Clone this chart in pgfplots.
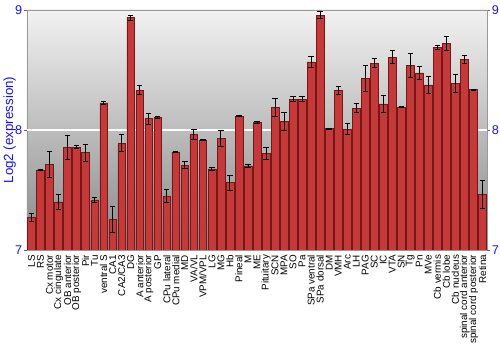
\documentclass[border=0pt]{standalone}
\usepackage{pgfplots}
\usepackage{pgfplotstable}
\pgfplotsset{compat=1.18}
\usepackage{fontspec}
\setmainfont{Liberation Sans}
\definecolor{tickblue}{RGB}{20,20,255}
\definecolor{barfill}{RGB}{196,58,58}
\definecolor{baredge}{RGB}{120,22,22}
\definecolor{bgtop}{RGB}{242,242,242}
\definecolor{bgbot}{RGB}{135,135,135}
\pgfplotstableread{
x y e
0 7.27 0.035
1 7.667 0.005
2 7.714 0.107
3 7.40 0.062
4 7.858 0.10
5 7.858 0.015
6 7.811 0.07
7 7.417 0.02
8 8.225 0.015
9 7.258 0.108
10 7.889 0.072
11 8.936 0.02
12 8.333 0.035
13 8.094 0.045
14 8.103 0.007
15 7.45 0.057
16 7.817 0.008
17 7.708 0.03
18 7.964 0.04
19 7.917 0.003
20 7.675 0.01
21 7.928 0.068
22 7.561 0.062
23 8.114 0.005
24 7.70 0.01
25 8.064 0.01
26 7.803 0.05
27 8.189 0.075
28 8.072 0.075
29 8.258 0.022
30 8.258 0.02
31 8.567 0.043
32 8.958 0.026
33 8.011 0.003
34 8.331 0.032
35 8.008 0.043
36 8.183 0.037
37 8.431 0.107
38 8.558 0.036
39 8.217 0.072
40 8.608 0.057
41 8.192 0.005
42 8.539 0.10
43 8.475 0.054
44 8.375 0.071
45 8.689 0.018
46 8.719 0.058
47 8.389 0.075
48 8.586 0.035
49 8.336 0.005
50 7.464 0.117
}\datatable
\begin{document}
\begin{tikzpicture}
\begin{axis}[
  at={(20.25pt,75pt)}, anchor=south west,
  scale only axis, width=345pt, height=180pt,
  xmin=-0.5, xmax=50.5, ymin=7, ymax=9,
  axis background/.style={top color=bgtop, bottom color=bgbot},
  axis line style={draw=gray!80, line width=0.6pt},
  ytick={7,8,9},
  extra y ticks={8}, extra y tick labels={},
  extra y tick style={grid=major, major grid style={white, line width=0.8pt}, major tick length=0pt},
  ytick pos=left,
  tick align=outside,
  major tick length=2.5pt,
  every tick/.style={gray!80!black, line width=0.6pt},
  yticklabel style={font=\fontsize{9.5}{10}\selectfont, text=tickblue, inner sep=1pt},
  /pgf/number format/assume math mode=true,
  ylabel={Log2 (expression)},
  every axis y label/.style={at={(axis description cs:0,0.5)}, rotate=90, anchor=center, yshift=13pt,
    font=\fontsize{10}{11}\selectfont, text=tickblue},
  xtick=data,
  x tick style={draw=none},
  xticklabels={LS,RS,Cx motor,Cx cingulate,OB anterior,OB posterior,Pir,Tu,ventral S,CA1,CA2/CA3,DG,A anterior,A posterior,GP,CPu lateral,CPu medial,MD,VA/VL,VPM/VPL,LG,MG,Hb,Pineal,M,ME,Pituitary,SCN,MPA,SO,Pa,SPa ventral,SPa dorsal,DM,VMH,Arc,LH,PAG,SC,IC,VTA,SN,Tg,Pn,MVe,Cb vermis,Cb lobe,Cb nucleus,spinal cord anterior,spinal cord posterior,Retina},
  xticklabel style={rotate=90, anchor=east, font=\fontsize{7.4}{7.5}\selectfont, inner sep=1pt},
  ybar, bar width=0.86,
]
\addplot[ybar, draw=baredge, line width=0.4pt, fill=barfill, bar shift=0pt,
  error bars/.cd, y dir=both, y explicit,
  error bar style={black, line width=0.7pt},
  error mark options={black, rotate=90, mark size=2pt, line width=0.7pt}]
  table[x=x, y=y, y error=e] {\datatable};
\end{axis}
\begin{axis}[
  at={(20.25pt,75pt)}, anchor=south west,
  scale only axis, width=345pt, height=180pt,
  xmin=-0.5, xmax=50.5, ymin=7, ymax=9,
  axis y line*=right, axis x line=none,
  axis line style={draw=gray!80, line width=0.6pt, -},
  ytick={7,8,9},
  tick align=outside,
  major tick length=2.5pt,
  every tick/.style={gray!80!black, line width=0.6pt},
  yticklabel style={font=\fontsize{9.5}{10}\selectfont, text=tickblue, inner sep=1pt},
  /pgf/number format/assume math mode=true,
]
\end{axis}
\pgfresetboundingbox
\path[use as bounding box] (0,0) rectangle (375pt,262.5pt);
\end{tikzpicture}
\end{document}
